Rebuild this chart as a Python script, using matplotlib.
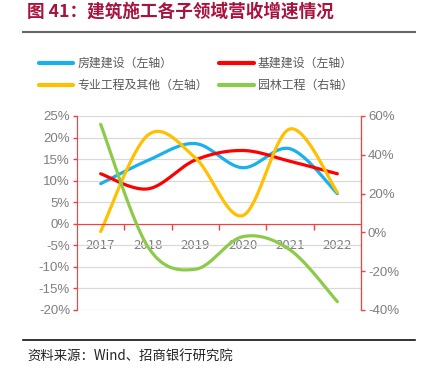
import numpy as np
import matplotlib.pyplot as plt

plt.rcParams['font.family'] = ['Noto Sans CJK SC', 'DejaVu Sans']

years = ['2017', '2018', '2019', '2020', '2021', '2022']
fangjian = [9.3, 14.7, 18.6, 13.0, 17.4, 7.0]     # 房建建设 (left, %)
jijian = [11.6, 8.1, 14.8, 17.0, 14.5, 11.6]      # 基建建设 (left, %)
zhuanye = [-1.8, 20.6, 15.3, 1.9, 22.0, 7.3]      # 专业工程及其他 (left, %)
yuanlin = [55.7, -7.5, -19.0, -2.2, -9.0, -35.7]  # 园林工程 (right, %)

left_ticks = [-20, -15, -10, -5, 0, 5, 10, 15, 20, 25]
right_ticks = [-40, -20, 0, 20, 40, 60]

BLUE, RED, YEL, GRN = '#1AB0EC', '#FF0000', '#FFC000', '#8CCB4A'
AXRED = '#FF3B3B'
GRAY = '#7F7F7F'


def smooth(ys, n=40):
    # catmull-rom spline like Excel's smoothed line
    p = np.asarray(ys, float)
    x = np.arange(len(p), dtype=float)
    pe = np.concatenate([[p[0]], p, [p[-1]]])
    xe = np.concatenate([[x[0]], x, [x[-1]]])
    xs, out = [], []
    for i in range(len(p) - 1):
        t = np.linspace(0, 1, n)
        for arr, res in ((xe, xs), (pe, out)):
            p0, p1, p2, p3 = arr[i], arr[i + 1], arr[i + 2], arr[i + 3]
            res.extend(0.5 * (2 * p1 + (-p0 + p2) * t
                              + (2 * p0 - 5 * p1 + 4 * p2 - p3) * t ** 2
                              + (-p0 + 3 * p1 - 3 * p2 + p3) * t ** 3))
    return np.array(xs), np.array(out)


fig = plt.figure(figsize=(4.25, 3.79), dpi=100)
ax = fig.add_axes([77 / 425, 1 - 310 / 379, 284 / 425, 194 / 379])
ax2 = ax.twinx()

lw = 2.3
h1, = ax.plot(*smooth(fangjian), color=BLUE, lw=lw, solid_capstyle='round')
h2, = ax.plot(*smooth(jijian), color=RED, lw=lw, solid_capstyle='round')
h3, = ax.plot(*smooth(zhuanye), color=YEL, lw=lw, solid_capstyle='round')
h4, = ax2.plot(*smooth(yuanlin), color=GRN, lw=lw, solid_capstyle='round')

ax.set_xlim(-0.5, 5.5)
ax.set_ylim(-20, 25)
ax2.set_ylim(-40, 60)
ax.set_yticks(left_ticks)
ax.set_yticklabels([f'{v}%' for v in left_ticks])
ax2.set_yticks(right_ticks)
ax2.set_yticklabels([f'{v}%' for v in right_ticks])
ax.grid(axis='y', color='#D9D9D9', lw=0.9)
ax.set_axisbelow(True)

ax.set_xticks(np.arange(0.5, 5.5, 1))
ax.set_xticklabels([])
ax.set_xticks(range(len(years)), minor=True)
ax.set_xticklabels(years, minor=True)
ax.tick_params(axis='x', which='major', length=4, width=1, color=AXRED, direction='out')
ax.tick_params(axis='x', which='minor', length=0, pad=11, labelsize=9.5, labelcolor=GRAY)
ax.tick_params(axis='y', length=3, width=1, color=AXRED, labelsize=9.5, labelcolor=GRAY, pad=2)
ax2.tick_params(axis='y', length=3, width=1, color=AXRED, labelsize=9.5, labelcolor=GRAY, pad=2)
for a in (ax, ax2):
    for lab in a.get_xticklabels(minor=True) + a.get_yticklabels():
        lab.set_family(['Liberation Sans', 'DejaVu Sans'])

for s in ('top',):
    ax.spines[s].set_visible(False)
    ax2.spines[s].set_visible(False)
ax.spines['bottom'].set_position(('data', 0))
ax.spines['bottom'].set_color(AXRED)
ax.spines['left'].set_color(AXRED)
ax2.spines['right'].set_color(AXRED)
ax2.spines['left'].set_visible(False)
ax2.spines['bottom'].set_visible(False)

leg = fig.legend([h1, h3, h2, h4],
                 ['房建建设（左轴）', '专业工程及其他（左轴）', '基建建设（左轴）', '园林工程（右轴）'],
                 ncol=2, loc='upper left', bbox_to_anchor=(34 / 425, 1 - 52 / 379),
                 frameon=False, fontsize=8.6, handlelength=2.9, handletextpad=0.35,
                 columnspacing=0.9, labelspacing=0.75, borderaxespad=0)
for t in leg.get_texts():
    t.set_color('#595959')
for l in leg.get_lines():
    l.set_linewidth(3)

fig.text(27 / 425, 1 - 12 / 379, '图 41：建筑施工各子领域营收增速情况', color='#A8123E',
         fontsize=12.7, fontweight='bold', va='center', ha='left')
fig.add_artist(plt.Line2D([23 / 425, 415 / 425], [1 - 32 / 379] * 2, color='#666666', lw=1.5))
fig.add_artist(plt.Line2D([23 / 425, 415 / 425], [1 - 340 / 379] * 2, color='#111111', lw=1.2))
fig.text(27 / 425, 1 - 357 / 379, '资料来源：Wind、招商银行研究院', color='#222222',
         fontsize=9.6, va='center', ha='left')

fig.savefig('out.png', dpi=100)
